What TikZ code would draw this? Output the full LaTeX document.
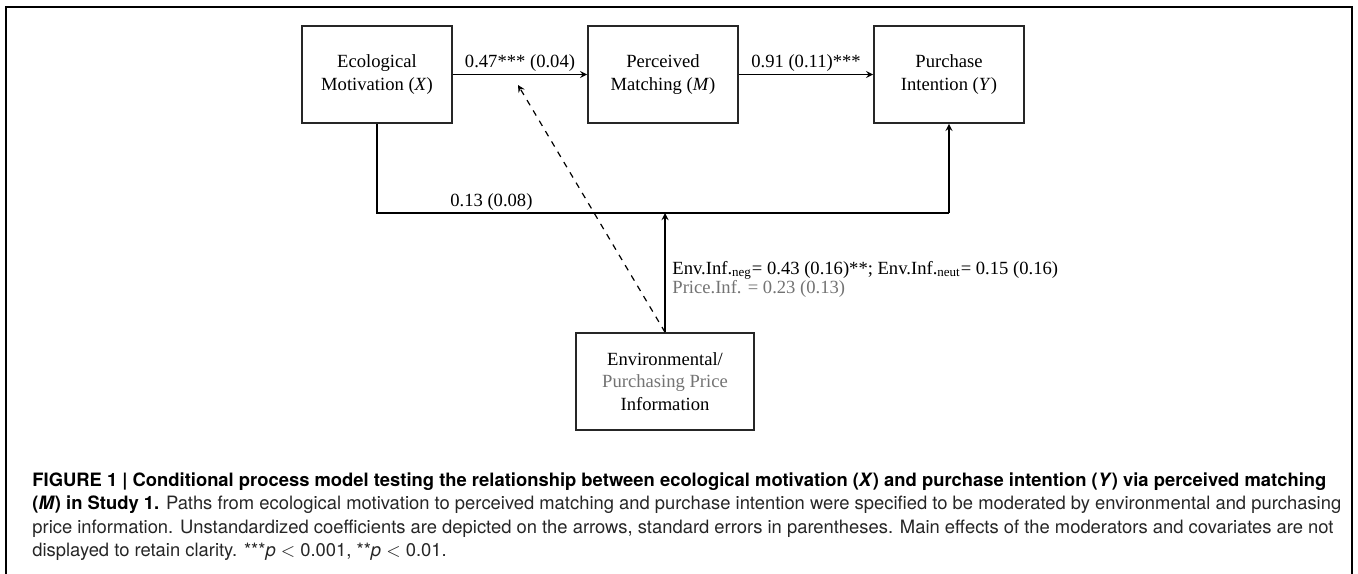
\documentclass[tikz,border=0pt]{standalone}
\usepackage{fontspec}
\setmainfont{Liberation Serif}
\setsansfont{TeX Gyre Heros}
\usetikzlibrary{arrows}

\begin{document}
\begin{tikzpicture}[x=0.5pt, y=-0.5pt, node distance=143pt, >=stealth,
                    every node/.style={font=\fontsize{9.3}{11.3}\selectfont},
                    every edge/.style={draw,solid,line width=0.6pt},
                    var/.style={draw=black!85, line width=0.8pt, minimum width=75pt,
                                minimum height=48.5pt, align=center, inner sep=0pt},
                    coef/.style={inner sep=1pt}]

\useasboundingbox (0,0) rectangle (1358,573);
\draw[line width=1.2pt] (6,576) -- (6,7) -- (1352,7) -- (1352,576);

\node[var] (eco) at (377,74.5) {Ecological\\Motivation (\textit{X})};
\node[var] (per) [right of=eco] {Perceived\\Matching (\textit{M})};
\node[var] (pur) [right of=per] {Purchase\\Intention (\textit{Y})};
\node[var, minimum width=89pt] (inf) at (665,381.5)
     {Environmental/\\\textcolor{black!55}{Purchasing Price}\\Information};

\coordinate (low) at (0,213);
\coordinate (mod) at (518,85);

\path[->]
(eco) edge node[coef, above] {0.47*** (0.04)} (per)
(per) edge node[coef, above] {0.91 (0.11)***} (pur);

\draw[line width=0.6pt] (eco.south) -- (eco.south |- low)
     -- node[coef, above, pos=0.2] {0.13 (0.08)} (pur.south |- low);
\draw[->, line width=0.6pt] (pur.south |- low) -- (pur.south);
\draw[->, line width=0.6pt] (inf.north) -- (inf.north |- low);
\draw[->, dashed, line width=0.6pt] (inf.north) -- (mod);

\node[anchor=west, inner sep=0pt] (envlab) at (672,270)
     {Env.Inf.\textsubscript{neg}= 0.43 (0.16)**; Env.Inf.\textsubscript{neut}= 0.15 (0.16)};
\node[anchor=west, inner sep=0pt, text=black!55] (pricelab) at (672,289)
     {Price.Inf. = 0.23 (0.13)};

\node[anchor=north west, align=left, inner sep=0pt, text=black!85,
      font=\sffamily\fontsize{9.2}{11.8}\selectfont] (cap) at (32,472)
     {\textcolor{black}{\textbf{FIGURE 1 | Conditional process model testing the relationship between ecological motivation (\textit{X}) and purchase intention (\textit{Y}) via perceived matching}}\\
      \textcolor{black}{\textbf{(\textit{M}) in Study 1.}} Paths from ecological motivation to perceived matching and purchase intention were specified to be moderated by environmental and purchasing\\
      price information. Unstandardized coefficients are depicted on the arrows, standard errors in parentheses. Main effects of the moderators and covariates are not\\
      displayed to retain clarity. ***\textit{p} $<$ 0.001, **\textit{p} $<$ 0.01.};
\end{tikzpicture}
\end{document}
